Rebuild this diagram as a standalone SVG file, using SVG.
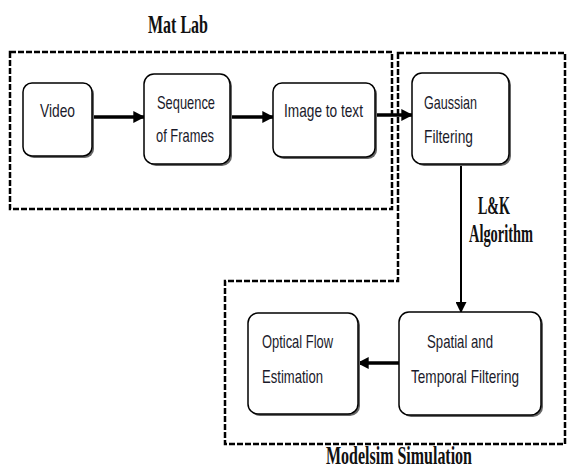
<svg xmlns="http://www.w3.org/2000/svg" width="568" height="466" viewBox="0 0 568 466">
<defs>
<style>
.dash{fill:none;stroke:#000;stroke-width:2.5;stroke-dasharray:6 2}
.box{fill:#fff;stroke:#000;stroke-width:1.5}
.shadow{fill:#666}
.t{font-family:"Liberation Sans",Arial,sans-serif;font-size:19px;fill:#1a1a2a}
.lbl{font-family:"Liberation Serif","Times New Roman",serif;font-size:26px;font-weight:bold;fill:#111}
.thick{stroke:#000;stroke-width:3.5;fill:none}
.thin{stroke:#000;stroke-width:2;fill:none}
</style>
<marker id="ah" viewBox="0 0 10 10" refX="9" refY="5" markerWidth="3.4" markerHeight="3.4" orient="auto" markerUnits="strokeWidth"><path d="M0,0 L10,5 L0,10 Z" fill="#000"/></marker>
<marker id="ah2" viewBox="0 0 10 10" refX="9" refY="5" markerWidth="5.5" markerHeight="5.5" orient="auto" markerUnits="strokeWidth"><path d="M0,0 L10,5 L0,10 Z" fill="#000"/></marker>
</defs>
<rect width="568" height="466" fill="#fff"/>
<g id="regions">
<rect class="dash" x="10" y="52" width="382" height="157"/>
<path class="dash" d="M398,53 H565 V444 H225 V281 H398 Z"/>
<text class="lbl" x="148" y="33" textLength="60" lengthAdjust="spacingAndGlyphs">Mat Lab</text>
<text class="lbl" x="326" y="464" textLength="146" lengthAdjust="spacingAndGlyphs">Modelsim Simulation</text>
</g>
<g id="connectors">
<line class="thick" x1="92" y1="117" x2="144" y2="117" marker-end="url(#ah)"/>
<line class="thick" x1="230" y1="117" x2="273" y2="117" marker-end="url(#ah)"/>
<line class="thick" x1="375" y1="115" x2="412" y2="115" marker-end="url(#ah)"/>
<line class="thin" x1="461" y1="164" x2="461" y2="312" marker-end="url(#ah2)"/>
<line class="thick" x1="399" y1="363" x2="358" y2="363" marker-end="url(#ah)"/>
<text class="lbl" x="478" y="214" textLength="32" lengthAdjust="spacingAndGlyphs">L&amp;K</text>
<text class="lbl" x="469" y="242" textLength="64" lengthAdjust="spacingAndGlyphs">Algorithm</text>
</g>
<g id="video">
<rect class="shadow" x="25" y="85" width="69" height="73" rx="9"/>
<rect class="box" x="23" y="83" width="69" height="73" rx="9"/>
<text class="t" x="40" y="117" textLength="35" lengthAdjust="spacingAndGlyphs">Video</text>
</g>
<g id="sequence">
<rect class="shadow" x="146" y="76" width="86" height="90" rx="10"/>
<rect class="box" x="144" y="74" width="86" height="90" rx="10"/>
<text class="t" x="157" y="109" textLength="58" lengthAdjust="spacingAndGlyphs">Sequence</text>
<text class="t" x="156" y="142" textLength="58" lengthAdjust="spacingAndGlyphs">of Frames</text>
</g>
<g id="image2text">
<rect class="shadow" x="275" y="85" width="102" height="74" rx="9"/>
<rect class="box" x="273" y="83" width="102" height="74" rx="9"/>
<text class="t" x="284" y="117" textLength="79" lengthAdjust="spacingAndGlyphs">Image to text</text>
</g>
<g id="gaussian">
<rect class="shadow" x="414" y="75" width="97" height="91" rx="10"/>
<rect class="box" x="412" y="73" width="97" height="91" rx="10"/>
<text class="t" x="424" y="109" textLength="53" lengthAdjust="spacingAndGlyphs">Gaussian</text>
<text class="t" x="424" y="143" textLength="49" lengthAdjust="spacingAndGlyphs">Filtering</text>
</g>
<g id="spatial">
<rect class="shadow" x="401" y="314" width="142" height="103" rx="10"/>
<rect class="box" x="399" y="312" width="142" height="103" rx="10"/>
<text class="t" x="427" y="348" textLength="66" lengthAdjust="spacingAndGlyphs">Spatial and</text>
<text class="t" x="411" y="383" textLength="108" lengthAdjust="spacingAndGlyphs">Temporal Filtering</text>
</g>
<g id="optical">
<rect class="shadow" x="250" y="315" width="110" height="101" rx="10"/>
<rect class="box" x="248" y="313" width="110" height="101" rx="10"/>
<text class="t" x="262" y="348" textLength="71" lengthAdjust="spacingAndGlyphs">Optical Flow</text>
<text class="t" x="262" y="383" textLength="61" lengthAdjust="spacingAndGlyphs">Estimation</text>
</g>
</svg>
